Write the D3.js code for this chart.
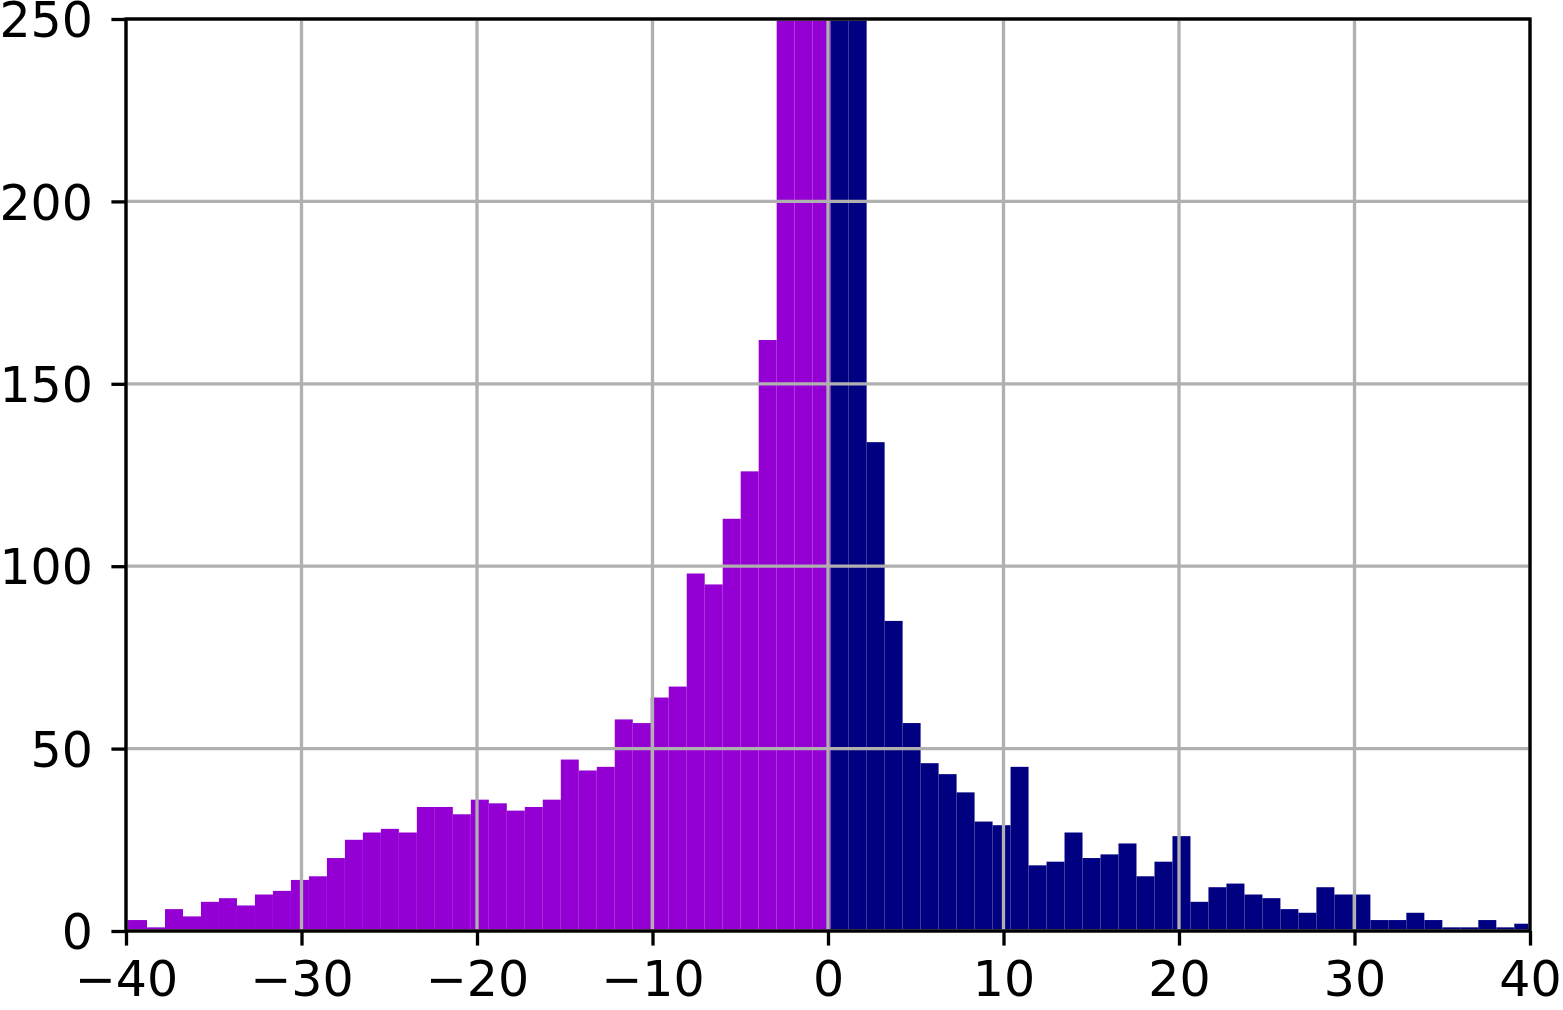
<!DOCTYPE html>
<html>
<head>
<meta charset="utf-8">
<script src="https://cdn.jsdelivr.net/npm/d3@7"></script>
<style>
  body { margin: 0; background: #fff; }
  #wrapper { width: 1563px; height: 1010px; }
</style>
</head>
<body>
<div id="wrapper"></div>
<script>
// Histogram bins: left edge of the first bin and bin width (data units)
const binStart = -40.853;
const binWidth = 1.0251;

// Counts for bins left of zero (violet) and right of zero (navy)
const negCounts = [3, 3, 1, 6, 4, 8, 9, 7, 10, 11, 14, 15, 20, 25, 27, 28, 27, 34, 34, 32,
  36, 35, 33, 34, 36, 47, 44, 45, 58, 57, 64, 67, 98, 95, 113, 126, 162, 310, 470, 720];
const posCounts = [700, 330, 134, 85, 57, 46, 43, 38, 30, 29, 45, 18, 19, 27, 20, 21, 24, 15, 19, 26,
  8, 12, 13, 10, 9, 6, 5, 12, 10, 10, 3, 3, 5, 3, 1, 1, 3, 1, 2];

const xTicks = [-40, -30, -20, -10, 0, 10, 20, 30, 40];
const yTicks = [0, 50, 100, 150, 200, 250];

const drawChart = () => {
  let dimensions = {
    width: 1563,
    height: 1010,
    margins: { top: 19, right: 33, bottom: 79, left: 126 },
  };
  dimensions.boundedWidth =
    dimensions.width - dimensions.margins.left - dimensions.margins.right;
  dimensions.boundedHeight =
    dimensions.height - dimensions.margins.top - dimensions.margins.bottom;

  const bins = negCounts.concat(posCounts).map((c, i) => ({
    x0: binStart + i * binWidth,
    x1: binStart + (i + 1) * binWidth,
    count: c,
    color: i < negCounts.length ? "#9400d3" : "#000080",
  }));

  const wrapper = d3.select("#wrapper")
    .append("svg")
      .attr("width", dimensions.width)
      .attr("height", dimensions.height)
      .style("font-family", "'DejaVu Sans', sans-serif");

  const bounds = wrapper.append("g")
    .attr("transform", `translate(${dimensions.margins.left},${dimensions.margins.top})`);

  bounds.append("clipPath")
      .attr("id", "plot-clip")
    .append("rect")
      .attr("width", dimensions.boundedWidth)
      .attr("height", dimensions.boundedHeight);

  const xScale = d3.scaleLinear()
    .domain([-40, 40])
    .range([0, dimensions.boundedWidth]);
  const yScale = d3.scaleLinear()
    .domain([0, 250])
    .range([dimensions.boundedHeight, 0]);

  // bars
  bounds.append("g")
      .attr("clip-path", "url(#plot-clip)")
    .selectAll("rect")
    .data(bins)
    .join("rect")
      .attr("x", d => xScale(d.x0))
      .attr("width", d => xScale(d.x1) - xScale(d.x0))
      .attr("y", d => yScale(d.count))
      .attr("height", d => yScale(0) - yScale(d.count))
      .attr("fill", d => d.color);

  // grid (drawn over the bars)
  const grid = bounds.append("g")
    .attr("stroke", "#b0b0b0")
    .attr("stroke-width", 3.3);
  grid.selectAll(".vgrid")
    .data(xTicks)
    .join("line")
      .attr("x1", d => xScale(d))
      .attr("x2", d => xScale(d))
      .attr("y1", 0)
      .attr("y2", dimensions.boundedHeight);
  grid.selectAll(".hgrid")
    .data(yTicks)
    .join("line")
      .attr("x1", 0)
      .attr("x2", dimensions.boundedWidth)
      .attr("y1", d => yScale(d))
      .attr("y2", d => yScale(d));

  // axes
  const xAxis = d3.axisBottom(xScale)
    .tickValues(xTicks)
    .tickSize(14.6)
    .tickPadding(16);
  const yAxis = d3.axisLeft(yScale)
    .tickValues(yTicks)
    .tickSize(14.6)
    .tickPadding(18.5);

  const xAxisG = bounds.append("g")
    .attr("transform", `translate(0,${dimensions.boundedHeight})`)
    .call(xAxis);
  const yAxisG = bounds.append("g").call(yAxis);

  [xAxisG, yAxisG].forEach(g => {
    g.select(".domain").remove();
    g.selectAll(".tick line").attr("stroke", "#000").attr("stroke-width", 3.3);
    g.selectAll(".tick text")
      .attr("fill", "#000")
      .style("font-size", "49px")
      .style("font-family", "'DejaVu Sans', sans-serif");
  });
  yAxisG.selectAll(".tick text").attr("dy", "0.36em");

  // spines
  bounds.append("rect")
    .attr("width", dimensions.boundedWidth)
    .attr("height", dimensions.boundedHeight)
    .attr("fill", "none")
    .attr("stroke", "#000")
    .attr("stroke-width", 3.3);
};

drawChart();
</script>
</body>
</html>
